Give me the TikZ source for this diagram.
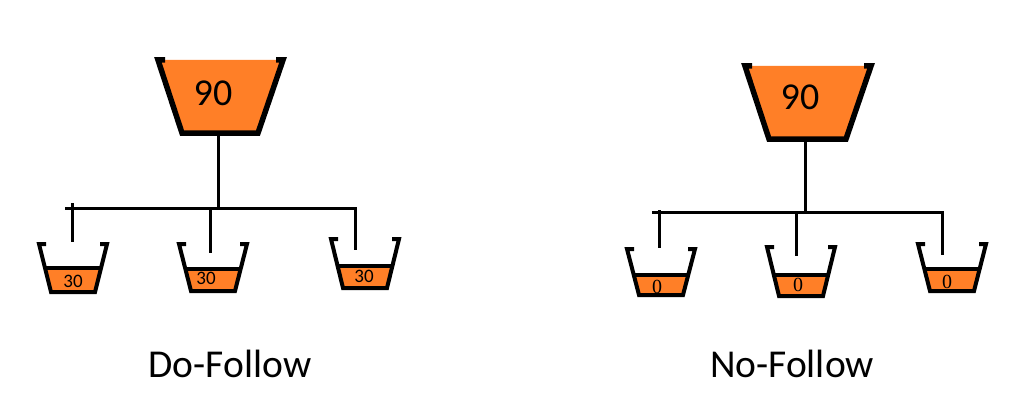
\documentclass[tikz,border=0pt]{standalone}
\usepackage{fontspec}
\setmainfont{Carlito}
\newfontfamily\zerofont{Liberation Serif}

\definecolor{juice}{HTML}{FF7F27}

\begin{document}
\begin{tikzpicture}[
    x=1pt, y=-1pt,
    rim/.style={draw=black, line width=5.5pt, line join=miter},
    cupline/.style={draw=black, line width=4pt, line join=miter},
    pipe/.style={draw=black, line width=3pt, line cap=rect},
    amount/.style={font=\fontsize{38}{40}\selectfont, anchor=base, inner sep=0pt},
    share/.style={font=\fontsize{19}{20}\selectfont, anchor=base, inner sep=0pt},
    nought/.style={font=\zerofont\fontsize{20}{22}\selectfont, anchor=base, inner sep=0pt},
    caption/.style={font=\fontsize{39.5}{42}\selectfont, anchor=base, inner sep=0pt},
]
\useasboundingbox[fill=white] (0,0) rectangle (1015,420);

% big funnels (source pages)
\fill[juice] (158,60) -- (283,60) -- (258,133) -- (182,133) -- cycle;
\draw[rim] (165,60) -- (158,60) -- (182,133) -- (258,133) -- (283,60) -- (276,60);
\node[amount] (srcA) at (213,105) {90};
\coordinate (srcA-out) at (218,133);

\fill[juice] (745,66) -- (871,66) -- (846,139) -- (769,139) -- cycle;
\draw[rim] (752,66) -- (745,66) -- (769,139) -- (846,139) -- (871,66) -- (864,66);
\node[amount] (srcB) at (800,110) {90};
\coordinate (srcB-out) at (805,139);

% bus lines
\coordinate (busA) at (218,208);
\coordinate (busA-w) at (66,208);
\coordinate (busA-e) at (355,208);
\draw[pipe] (srcA-out) -- (busA);
\draw[pipe] (busA-w) -- (busA-e);

\coordinate (busB) at (805,212);
\coordinate (busB-w) at (653,212);
\coordinate (busB-e) at (942,212);
\draw[pipe] (srcB-out) -- (busB);
\draw[pipe] (busB-w) -- (busB-e);

% taps down to the cups
\foreach \n/\x/\ya/\yb in {a1/72/204/240, a2/210/208/251, a3/355/208/248,
                           b1/659/211/246, b2/796/212/254, b3/942/212/253}{
    \coordinate (tap-\n) at (\x,\ya);
    \coordinate (drop-\n) at (\x,\yb);
    \draw[pipe] (tap-\n) -- (drop-\n);
}

% small cups (linked pages)
\foreach \n/\cx/\top/\bot/\lvl in {a1/73/244/292/268, a2/213/244/291/269, a3/365/239/288/266,
                                   b1/661/249/295/275, b2/801/247/296/275, b3/952/244/291/269}{
    \begin{scope}
        \clip (\cx-34,\top) -- (\cx+34,\top) -- (\cx+22,\bot) -- (\cx-22,\bot) -- cycle;
        \fill[juice] (\cx-40,\lvl) rectangle (\cx+40,\bot+5);
        \draw[black, line width=3.5pt] (\cx-40,\lvl) -- (\cx+40,\lvl);
    \end{scope}
    \draw[cupline] (\cx-27,\top) -- (\cx-34,\top) -- (\cx-22,\bot) -- (\cx+22,\bot)
        -- (\cx+34,\top) -- (\cx+27,\top);
}

% amounts passed on
\node[share] (shareA1) at (73,287) {30};
\node[share] (shareA2) at (206,284) {30};
\node[share] (shareA3) at (364,282) {30};
\node[nought] (shareB1) at (657,293) {0};
\node[nought] (shareB2) at (798,291) {0};
\node[nought] (shareB3) at (947,288) {0};

% captions
\node[caption] (capA) at (230,377) {Do-Follow};
\node[caption] (capB) at (792,377) {No-Follow};

\end{tikzpicture}
\end{document}
